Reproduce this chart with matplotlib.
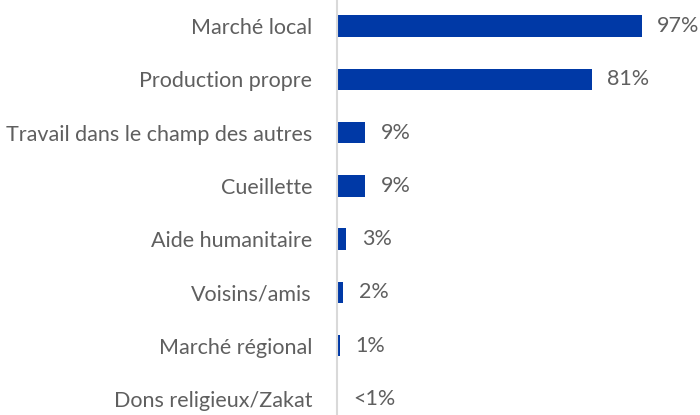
import matplotlib
matplotlib.use("Agg")
import matplotlib.pyplot as plt

categories = ["Marché local", "Production propre", "Travail dans le champ des autres",
              "Cueillette", "Aide humanitaire", "Voisins/amis", "Marché régional",
              "Dons religieux/Zakat"]
values = [97, 81, 9, 9, 3, 2, 1, 0.3]
value_labels = ["97%", "81%", "9%", "9%", "3%", "2%", "1%", "<1%"]

plt.rcParams['font.family'] = ['Lato', 'DejaVu Sans']
txt_color = "#5f5f5f"
bar_color = "#0039A6"

fig = plt.figure(figsize=(7, 4.15), dpi=100)
ax = fig.add_axes([337/700, 0, 1 - 337/700, 1])
y = list(range(len(categories)))
ax.barh(y, values, height=0.4, color=bar_color)
ax.set_xlim(0, 115.5)
ax.set_ylim(7.30, -0.488)
ax.set_yticks(y)
ax.set_yticklabels(categories, fontsize=15.5, color=txt_color)
ax.tick_params(axis='y', length=0, pad=18)
ax.set_xticks([])
for s in ["top", "right", "bottom"]:
    ax.spines[s].set_visible(False)
ax.spines["left"].set_color("#d9d9d9")
ax.spines["left"].set_linewidth(1.5)
for yi, v, lab in zip(y, values, value_labels):
    ax.annotate(lab, (v, yi), xytext=(11, 0), textcoords="offset points",
                ha="left", va="center", fontsize=15.5, color=txt_color)
fig.savefig("out.png", dpi=100)
